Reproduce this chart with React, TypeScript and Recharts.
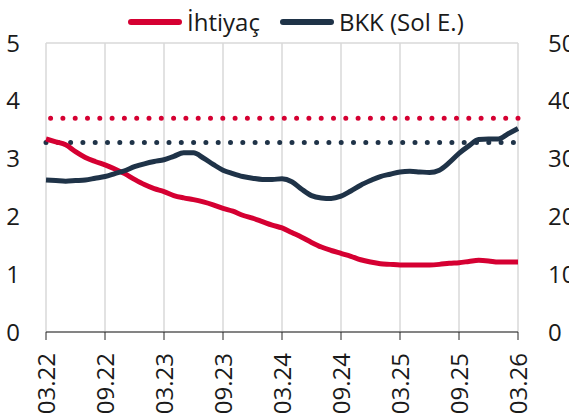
import { LineChart, Line, XAxis, YAxis, CartesianGrid, ReferenceLine } from 'recharts';

const months: string[] = [];
for (let i = 0; i <= 48; i++) {
  const m = ((2 + i) % 12) + 1;
  const y = 22 + Math.floor((2 + i) / 12);
  months.push(`${String(m).padStart(2, '0')}.${y}`);
}

// BKK (Sol E.) - left axis
const bkk = [
  2.63, 2.62, 2.61, 2.62, 2.63, 2.66, 2.69, 2.74, 2.79, 2.86,
  2.91, 2.95, 2.98, 3.04, 3.1, 3.1, 3.01, 2.9, 2.8, 2.74,
  2.69, 2.66, 2.64, 2.64, 2.65, 2.6, 2.47, 2.36, 2.32, 2.31,
  2.35, 2.44, 2.54, 2.62, 2.69, 2.73, 2.77, 2.78, 2.77, 2.76,
  2.8, 2.93, 3.09, 3.22, 3.33, 3.34, 3.34, 3.43, 3.52,
];

// İhtiyaç - right axis
const ihtiyac = [
  33.4, 32.9, 32.4, 31.2, 30.2, 29.5, 28.9, 28.2, 27.4, 26.4,
  25.5, 24.8, 24.3, 23.6, 23.2, 22.9, 22.5, 22.0, 21.4, 20.9,
  20.2, 19.7, 19.1, 18.5, 18.0, 17.2, 16.4, 15.5, 14.7, 14.1,
  13.6, 13.1, 12.5, 12.1, 11.8, 11.7, 11.6, 11.6, 11.6, 11.6,
  11.7, 11.9, 12.0, 12.2, 12.4, 12.3, 12.1, 12.1, 12.1,
];

const bkkAvg = 3.28;
const ihtiyacAvg = 37;

const leftTicks = [0, 1, 2, 3, 4, 5];
const rightTicks = [0, 10, 20, 30, 40, 50];

const data = months.map((date, i) => ({ date, bkk: bkk[i], ihtiyac: ihtiyac[i] }));

const RED = '#d50032';
const NAVY = '#1f3348';
const FONT = '"Open Sans", sans-serif';
const FS = 24;

const RotatedTick = (props: any) => {
  const { x, y, payload } = props;
  return (
    <text
      transform={`translate(${x},${y + 11}) rotate(-90)`}
      textAnchor="end"
      dy="0.36em"
      fill="#1a1a1a"
      fontSize={FS}
      fontFamily={FONT}
    >
      {payload.value}
    </text>
  );
};

export default function App() {
  return (
    <div style={{ position: 'absolute', left: 0, top: 0, width: 569, height: 415 }}>
      <div
        style={{
          position: 'absolute',
          top: 6,
          left: 128,
          display: 'flex',
          alignItems: 'center',
          fontFamily: FONT,
          fontSize: FS,
          lineHeight: '32px',
          color: '#1a1a1a',
          whiteSpace: 'nowrap',
        }}
      >
        <span style={{ display: 'inline-block', width: 54, height: 6, borderRadius: 3, background: RED, marginRight: 5 }} />
        <span style={{ marginRight: 20 }}>İhtiyaç</span>
        <span style={{ display: 'inline-block', width: 54, height: 6, borderRadius: 3, background: NAVY, marginRight: 5 }} />
        <span>BKK (Sol E.)</span>
      </div>
      <LineChart width={569} height={415} data={data} margin={{ top: 43, right: 0, bottom: 0, left: 0 }}>
        <CartesianGrid stroke="#d9d9d9" strokeWidth={1.5} horizontal vertical />
        <XAxis
          dataKey="date"
          interval={5}
          height={83}
          tick={<RotatedTick />}
          tickSize={8}
          stroke="#262626"
          axisLine={{ stroke: '#262626', strokeWidth: 1 }}
          tickLine={{ stroke: '#262626' }}
        />
        <YAxis
          yAxisId="left"
          domain={[0, 5]}
          ticks={leftTicks}
          width={46}
          axisLine={false}
          tickLine={false}
          tickSize={6}
          tickMargin={20}
          tick={{ fill: '#1a1a1a', fontSize: FS, fontFamily: FONT }}
        />
        <YAxis
          yAxisId="right"
          orientation="right"
          domain={[0, 50]}
          ticks={rightTicks}
          width={51}
          axisLine={false}
          tickLine={false}
          tickSize={6}
          tickMargin={24}
          tick={{ fill: '#1a1a1a', fontSize: FS, fontFamily: FONT, textAnchor: 'start' }}
        />
        <ReferenceLine yAxisId="right" y={ihtiyacAvg} stroke={RED} strokeWidth={5} strokeDasharray="0 12.3" strokeLinecap="round" />
        <ReferenceLine yAxisId="left" y={bkkAvg} stroke={NAVY} strokeWidth={5} strokeDasharray="0 12.3" strokeLinecap="round" />
        <Line yAxisId="right" type="monotone" dataKey="ihtiyac" stroke={RED} strokeWidth={5} dot={false} isAnimationActive={false} />
        <Line yAxisId="left" type="monotone" dataKey="bkk" stroke={NAVY} strokeWidth={5} dot={false} isAnimationActive={false} />
      </LineChart>
    </div>
  );
}
